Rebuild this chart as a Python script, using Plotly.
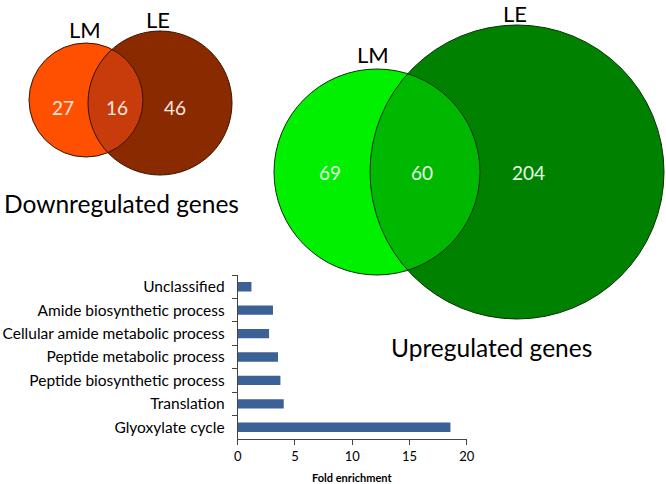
import numpy as np
import plotly.graph_objects as go

# ---- data ----
categories = ["Unclassified", "Amide biosynthetic process", "Cellular amide metabolic process",
              "Peptide metabolic process", "Peptide biosynthetic process", "Translation",
              "Glyoxylate cycle"]
fold_enrichment = [1.2, 3.08, 2.74, 3.52, 3.73, 4.02, 18.58]
x_ticks = [0, 5, 10, 15, 20]

set_labels = ["LM", "LE"]
down_counts = [27, 16, 46]   # LM only, both, LE only
up_counts = [69, 60, 204]
down_title = "Downregulated genes"
up_title = "Upregulated genes"
x_title = "Fold enrichment"

W, H = 666, 484
FONT = "Lato"

fig = go.Figure()
fig.add_trace(go.Bar(y=categories, x=fold_enrichment, orientation="h",
                     marker=dict(color="#3b6196", line=dict(width=0)),
                     xaxis="x", yaxis="y", showlegend=False))
# invisible trace to instantiate pixel overlay axes
fig.add_trace(go.Scatter(x=[None], y=[None], xaxis="x2", yaxis="y2", showlegend=False))

shapes = []
annotations = []


def lens_path(c1, r1, c2, r2, n=80):
    (x1, y1), (x2, y2) = c1, c2
    d = np.hypot(x2 - x1, y2 - y1)
    a = (r1**2 - r2**2 + d**2) / (2 * d)
    h = np.sqrt(r1**2 - a**2)
    ux, uy = (x2 - x1) / d, (y2 - y1) / d
    px, py = x1 + a * ux, y1 + a * uy
    pA = (px - h * uy, py + h * ux)
    pB = (px + h * uy, py - h * ux)

    def ang(c, p):
        return np.arctan2(p[1] - c[1], p[0] - c[0])
    th_c2 = np.arctan2(uy, ux)

    def arc(c, r, ta, tb, through):
        d1 = (tb - ta) % (2 * np.pi)
        mid = (through - ta) % (2 * np.pi)
        if mid <= d1:
            ts = np.linspace(ta, ta + d1, n)
        else:
            ts = np.linspace(ta, ta - ((2 * np.pi) - d1), n)
        return [(c[0] + r * np.cos(t), c[1] + r * np.sin(t)) for t in ts]
    pts = arc(c1, r1, ang(c1, pA), ang(c1, pB), th_c2)
    pts += arc(c2, r2, ang(c2, pB), ang(c2, pA), th_c2 + np.pi)
    return "M " + " L ".join(f"{x:.2f},{y:.2f}" for x, y in pts) + " Z"


def venn(c1, r1, c2, r2, col1, col2, colx, edge, counts, num_pos, lab_pos,
         title, title_pos, title_size, num_color):
    for c, r, col in [(c1, r1, col1), (c2, r2, col2)]:
        shapes.append(dict(type="circle", xref="x2", yref="y2",
                           x0=c[0] - r, x1=c[0] + r, y0=c[1] - r, y1=c[1] + r,
                           fillcolor=col, line=dict(width=0)))
    shapes.append(dict(type="path", xref="x2", yref="y2", path=lens_path(c1, r1, c2, r2),
                       fillcolor=colx, line=dict(width=0)))
    for c, r in [(c1, r1), (c2, r2)]:
        shapes.append(dict(type="circle", xref="x2", yref="y2",
                           x0=c[0] - r, x1=c[0] + r, y0=c[1] - r, y1=c[1] + r,
                           fillcolor="rgba(0,0,0,0)", line=dict(width=1, color=edge)))
    for v, (x, y) in zip(counts, num_pos):
        annotations.append(dict(x=x, y=y, xref="x2", yref="y2", text=str(v), showarrow=False,
                                font=dict(family=FONT, size=19, color=num_color)))
    for t, (x, y) in zip(set_labels, lab_pos):
        annotations.append(dict(x=x, y=y, xref="x2", yref="y2", text=t, showarrow=False,
                                font=dict(family=FONT, size=22, color="#000")))
    annotations.append(dict(x=title_pos[0], y=title_pos[1], xref="x2", yref="y2", text=title,
                            showarrow=False, font=dict(family=FONT, size=title_size, color="#000")))


venn((86, 100), 57, (160, 103), 72, "#ff5000", "#8a2a00", "#c83c0c", "#3a1200",
     down_counts, [(63, 107), (117, 107), (175, 107)], [(85, 29), (158, 19)],
     down_title, (121, 203), 24.5, "#fde8e0")
venn((377, 172), 103, (517, 172), 147, "#00f000", "#008200", "#00b800", "#0a300a",
     up_counts, [(330, 172), (422, 172), (528, 172)], [(373, 54), (515, 13)],
     up_title, (491, 347), 24.5, "#e6ffe6")

annotations.append(dict(x=352, y=477, xref="x2", yref="y2", text=f"<b>{x_title}</b>",
                        showarrow=False, font=dict(family=FONT, size=11, color="#000")))

fig.update_layout(
    width=W, height=H, margin=dict(l=0, r=0, t=0, b=0),
    paper_bgcolor="white", plot_bgcolor="rgba(0,0,0,0)",
    bargap=0.6, shapes=shapes, annotations=annotations, showlegend=False,
    xaxis=dict(domain=[237.7 / W, 466.7 / W], range=[0, 20], tickvals=x_ticks,
               showline=True, linecolor="#444", linewidth=1, ticks="outside",
               ticklen=5, tickcolor="#444", showgrid=False, zeroline=False,
               tickfont=dict(family=FONT, size=13, color="#000"), anchor="y",
               automargin=False),
    yaxis=dict(domain=[1 - 439 / H, 1 - 275 / H], range=[6.5, -0.5], type="category",
               showline=True, linecolor="#444", linewidth=1, ticks="outside",
               tickson="boundaries", ticklen=5, tickcolor="#444", showgrid=False,
               tickfont=dict(family=FONT, size=15.5, color="#000"), anchor="x",
               automargin=False, ticklabelstandoff=9),
    xaxis2=dict(domain=[0, 1], range=[0, W], visible=False, anchor="y2", fixedrange=True),
    yaxis2=dict(domain=[0, 1], range=[H, 0], visible=False, anchor="x2", fixedrange=True),
)

fig.write_html("out.html", config={"displayModeBar": False},
               post_script="document.body.style.margin='0';document.body.style.overflow='hidden';")
